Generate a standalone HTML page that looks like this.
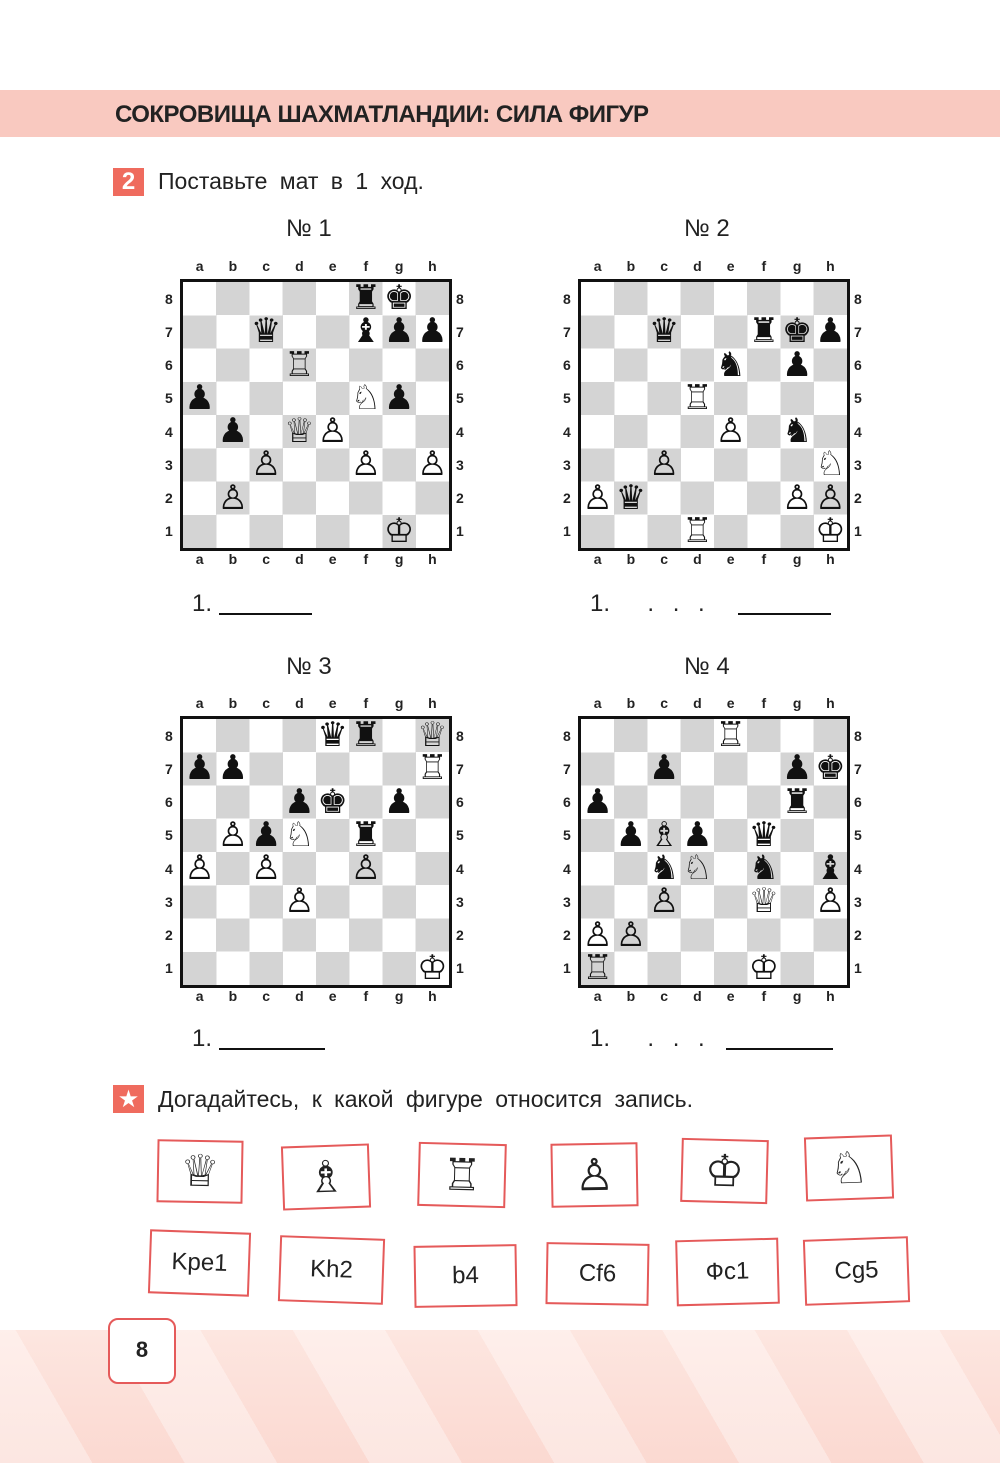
<!DOCTYPE html>
<html><head><meta charset="utf-8"><style>
*{margin:0;padding:0;box-sizing:border-box}
body{width:1000px;height:1463px;position:relative;background:#fff;font-family:"Liberation Sans","DejaVu Sans",sans-serif;overflow:hidden;color:#222}
.abs{position:absolute}
.hdr{left:0;top:90px;width:1000px;height:47px;background:#f9c9c0}
.hdr span{position:absolute;left:115px;top:11px;font-size:24px;font-weight:bold;letter-spacing:-0.5px;color:#222}
.board{position:absolute;width:272px;height:272px;border:3px solid #111;background:repeating-conic-gradient(#d4d4d4 0 25%,#fff 0 50%);background-size:66.5px 66.5px}
.board i{position:absolute;width:12.5%;height:12.5%;font-style:normal;text-align:center;font-size:34px;line-height:33px;font-family:"DejaVu Sans",sans-serif;color:#111}
.files{position:absolute;width:266px;display:flex;font-size:14px;font-weight:bold}
.files span{flex:1;text-align:center}
.ranks{position:absolute;height:266px;display:flex;flex-direction:column;font-size:14px;font-weight:bold}
.ranks span{flex:1;display:flex;align-items:center}
.ttl{position:absolute;font-size:24px}
.ans{position:absolute;font-size:24px}
.line{position:absolute;border-bottom:2px solid #111;height:2px}
.card{position:absolute;border:2.5px solid #e55a5a;background:#fff;display:flex;align-items:center;justify-content:center;font-size:44px;font-family:"DejaVu Sans",sans-serif}
.card2{font-family:"Liberation Sans",sans-serif;font-size:24px}
</style></head><body>
<div class="abs" style="left:0;top:1330px;width:1000px;height:133px;background:linear-gradient(180deg,#fde6e0,#fbd9d1)"></div>
<div class="abs" style="left:0;top:1330px;width:1000px;height:133px;background:repeating-linear-gradient(60deg,rgba(255,255,255,0.35) 0 80px,rgba(255,255,255,0) 80px 160px)"></div>
<div class="abs hdr"><span>СОКРОВИЩА ШАХМАТЛАНДИИ: СИЛА ФИГУР</span></div>
<div class="abs" style="left:113px;top:168px;width:31px;height:28px;background:#ef6b5e;color:#fff;font-weight:bold;font-size:24px;text-align:center;line-height:28px">2</div>
<div class="abs" style="left:158px;top:168px;font-size:23px;word-spacing:6px">Поставьте мат в 1 ход.</div>

<!-- Board 1 -->
<div class="ttl" style="left:286px;top:215px">№ 1</div>
<div class="files" style="left:183px;top:258px"><span>a</span><span>b</span><span>c</span><span>d</span><span>e</span><span>f</span><span>g</span><span>h</span></div>
<div class="files" style="left:183px;top:551px"><span>a</span><span>b</span><span>c</span><span>d</span><span>e</span><span>f</span><span>g</span><span>h</span></div>
<div class="ranks" style="left:165px;top:282px"><span>8</span><span>7</span><span>6</span><span>5</span><span>4</span><span>3</span><span>2</span><span>1</span></div>
<div class="ranks" style="left:456px;top:282px"><span>8</span><span>7</span><span>6</span><span>5</span><span>4</span><span>3</span><span>2</span><span>1</span></div>
<div class="board" style="left:180px;top:279px">
<i style="left:62.5%;top:0">♜</i><i style="left:75%;top:0">♚</i>
<i style="left:25%;top:12.5%">♛</i><i style="left:62.5%;top:12.5%">♝</i><i style="left:75%;top:12.5%">♟</i><i style="left:87.5%;top:12.5%">♟</i>
<i style="left:37.5%;top:25%">♖</i>
<i style="left:0;top:37.5%">♟</i><i style="left:62.5%;top:37.5%">♘</i><i style="left:75%;top:37.5%">♟</i>
<i style="left:12.5%;top:50%">♟</i><i style="left:37.5%;top:50%">♕</i><i style="left:50%;top:50%">♙</i>
<i style="left:25%;top:62.5%">♙</i><i style="left:62.5%;top:62.5%">♙</i><i style="left:87.5%;top:62.5%">♙</i>
<i style="left:12.5%;top:75%">♙</i>
<i style="left:75%;top:87.5%">♔</i>
</div>
<div class="ans" style="left:192px;top:590px">1.</div><div class="line" style="left:219px;top:613px;width:93px"></div>

<!-- Board 2 -->
<div class="ttl" style="left:684px;top:215px">№ 2</div>
<div class="files" style="left:581px;top:258px"><span>a</span><span>b</span><span>c</span><span>d</span><span>e</span><span>f</span><span>g</span><span>h</span></div>
<div class="files" style="left:581px;top:551px"><span>a</span><span>b</span><span>c</span><span>d</span><span>e</span><span>f</span><span>g</span><span>h</span></div>
<div class="ranks" style="left:563px;top:282px"><span>8</span><span>7</span><span>6</span><span>5</span><span>4</span><span>3</span><span>2</span><span>1</span></div>
<div class="ranks" style="left:854px;top:282px"><span>8</span><span>7</span><span>6</span><span>5</span><span>4</span><span>3</span><span>2</span><span>1</span></div>
<div class="board" style="left:578px;top:279px">
<i style="left:25%;top:12.5%">♛</i><i style="left:62.5%;top:12.5%">♜</i><i style="left:75%;top:12.5%">♚</i><i style="left:87.5%;top:12.5%">♟</i>
<i style="left:50%;top:25%">♞</i><i style="left:75%;top:25%">♟</i>
<i style="left:37.5%;top:37.5%">♖</i>
<i style="left:50%;top:50%">♙</i><i style="left:75%;top:50%">♞</i>
<i style="left:25%;top:62.5%">♙</i><i style="left:87.5%;top:62.5%">♘</i>
<i style="left:0;top:75%">♙</i><i style="left:12.5%;top:75%">♛</i><i style="left:75%;top:75%">♙</i><i style="left:87.5%;top:75%">♙</i>
<i style="left:37.5%;top:87.5%">♖</i><i style="left:87.5%;top:87.5%">♔</i>
</div>
<div class="ans" style="left:590px;top:590px;word-spacing:12px">1. &nbsp;. . .</div><div class="line" style="left:738px;top:613px;width:93px"></div>

<!-- Board 3 -->
<div class="ttl" style="left:286px;top:653px">№ 3</div>
<div class="files" style="left:183px;top:695px"><span>a</span><span>b</span><span>c</span><span>d</span><span>e</span><span>f</span><span>g</span><span>h</span></div>
<div class="files" style="left:183px;top:988px"><span>a</span><span>b</span><span>c</span><span>d</span><span>e</span><span>f</span><span>g</span><span>h</span></div>
<div class="ranks" style="left:165px;top:719px"><span>8</span><span>7</span><span>6</span><span>5</span><span>4</span><span>3</span><span>2</span><span>1</span></div>
<div class="ranks" style="left:456px;top:719px"><span>8</span><span>7</span><span>6</span><span>5</span><span>4</span><span>3</span><span>2</span><span>1</span></div>
<div class="board" style="left:180px;top:716px">
<i style="left:50%;top:0">♛</i><i style="left:62.5%;top:0">♜</i><i style="left:87.5%;top:0">♕</i>
<i style="left:0;top:12.5%">♟</i><i style="left:12.5%;top:12.5%">♟</i><i style="left:87.5%;top:12.5%">♖</i>
<i style="left:37.5%;top:25%">♟</i><i style="left:50%;top:25%">♚</i><i style="left:75%;top:25%">♟</i>
<i style="left:12.5%;top:37.5%">♙</i><i style="left:25%;top:37.5%">♟</i><i style="left:37.5%;top:37.5%">♘</i><i style="left:62.5%;top:37.5%">♜</i>
<i style="left:0;top:50%">♙</i><i style="left:25%;top:50%">♙</i><i style="left:62.5%;top:50%">♙</i>
<i style="left:37.5%;top:62.5%">♙</i>
<i style="left:87.5%;top:87.5%">♔</i>
</div>
<div class="ans" style="left:192px;top:1025px">1.</div><div class="line" style="left:219px;top:1048px;width:106px"></div>

<!-- Board 4 -->
<div class="ttl" style="left:684px;top:653px">№ 4</div>
<div class="files" style="left:581px;top:695px"><span>a</span><span>b</span><span>c</span><span>d</span><span>e</span><span>f</span><span>g</span><span>h</span></div>
<div class="files" style="left:581px;top:988px"><span>a</span><span>b</span><span>c</span><span>d</span><span>e</span><span>f</span><span>g</span><span>h</span></div>
<div class="ranks" style="left:563px;top:719px"><span>8</span><span>7</span><span>6</span><span>5</span><span>4</span><span>3</span><span>2</span><span>1</span></div>
<div class="ranks" style="left:854px;top:719px"><span>8</span><span>7</span><span>6</span><span>5</span><span>4</span><span>3</span><span>2</span><span>1</span></div>
<div class="board" style="left:578px;top:716px">
<i style="left:50%;top:0">♖</i>
<i style="left:25%;top:12.5%">♟</i><i style="left:75%;top:12.5%">♟</i><i style="left:87.5%;top:12.5%">♚</i>
<i style="left:0;top:25%">♟</i><i style="left:75%;top:25%">♜</i>
<i style="left:12.5%;top:37.5%">♟</i><i style="left:25%;top:37.5%">♗</i><i style="left:37.5%;top:37.5%">♟</i><i style="left:62.5%;top:37.5%">♛</i>
<i style="left:25%;top:50%">♞</i><i style="left:37.5%;top:50%">♘</i><i style="left:62.5%;top:50%">♞</i><i style="left:87.5%;top:50%">♝</i>
<i style="left:25%;top:62.5%">♙</i><i style="left:62.5%;top:62.5%">♕</i><i style="left:87.5%;top:62.5%">♙</i>
<i style="left:0;top:75%">♙</i><i style="left:12.5%;top:75%">♙</i>
<i style="left:0;top:87.5%">♖</i><i style="left:62.5%;top:87.5%">♔</i>
</div>
<div class="ans" style="left:590px;top:1025px;word-spacing:12px">1. &nbsp;. . .</div><div class="line" style="left:726px;top:1048px;width:107px"></div>

<!-- Star section -->
<div class="abs" style="left:113px;top:1085px;width:31px;height:28px;background:#ef6b5e;color:#fff;font-size:24px;text-align:center;line-height:28px;font-family:'DejaVu Sans',sans-serif">★</div>
<div class="abs" style="left:158px;top:1086px;font-size:23px;word-spacing:6px">Догадайтесь, к какой фигуре относится запись.</div>

<div class="card" style="left:157px;top:1140px;width:86px;height:63px;transform:rotate(1deg)">♕</div>
<div class="card" style="left:282px;top:1145px;width:88px;height:64px;transform:rotate(-2deg)">♗</div>
<div class="card" style="left:418px;top:1143px;width:88px;height:64px;transform:rotate(1.5deg)">♖</div>
<div class="card" style="left:551px;top:1143px;width:87px;height:64px;transform:rotate(-1deg)">♙</div>
<div class="card" style="left:681px;top:1139px;width:87px;height:64px;transform:rotate(1.5deg)">♔</div>
<div class="card" style="left:805px;top:1136px;width:88px;height:64px;transform:rotate(-2deg)">♘</div>

<div class="card card2" style="left:149px;top:1231px;width:101px;height:64px;transform:rotate(2deg)">Kpe1</div>
<div class="card card2" style="left:279px;top:1237px;width:105px;height:66px;transform:rotate(2deg)">Kh2</div>
<div class="card card2" style="left:414px;top:1245px;width:103px;height:62px;transform:rotate(-1deg)">b4</div>
<div class="card card2" style="left:546px;top:1243px;width:103px;height:62px;transform:rotate(1deg)">Cf6</div>
<div class="card card2" style="left:676px;top:1239px;width:103px;height:66px;transform:rotate(-1.5deg)">Фс1</div>
<div class="card card2" style="left:804px;top:1238px;width:105px;height:66px;transform:rotate(-2deg)">Cg5</div>

<div class="abs" style="left:108px;top:1318px;width:68px;height:66px;border:2.5px solid #e55a5a;border-radius:10px;background:#fff;font-size:22px;font-weight:bold;text-align:center;line-height:60px">8</div>
</body></html>
